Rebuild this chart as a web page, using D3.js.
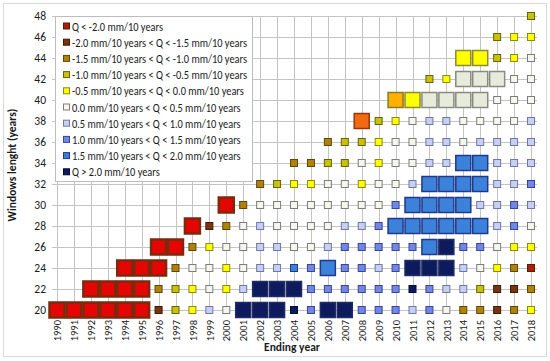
<!DOCTYPE html>
<html lang="en">
<head>
<meta charset="utf-8">
<title>Windows length vs ending year</title>
<script src="https://cdn.jsdelivr.net/npm/d3@7"></script>
<style>
    body { margin: 0; background: #fff; }
    text { font-family: Carlito, Lato, "Liberation Sans", sans-serif; fill: #1a1a1a; }
    .grid line { stroke: #c4c4c4; stroke-width: 1; }
</style>
</head>
<body>
<svg id="chart" width="550" height="361"></svg>
<script>
// ending years and window lengths
var years = d3.range(1990, 2019)
var windows = [20, 22, 24, 26, 28, 30, 32, 34, 36, 38, 40, 42, 44, 46, 48]
var firstYear = 1970   // a window of w years ending in y starts at y - w + 1 > 1970

// legend classes
var classLabels = [
    'Q < -2.0 mm/10 years',
    '-2.0 mm/10 years < Q < -1.5 mm/10 years',
    '-1.5 mm/10 years < Q < -1.0 mm/10 years',
    '-1.0 mm/10 years < Q < -0.5 mm/10 years',
    '-0.5 mm/10 years < Q < 0.0 mm/10 years',
    '0.0 mm/10 years < Q < 0.5 mm/10 years',
    '0.5 mm/10 years < Q < 1.0 mm/10 years',
    '1.0 mm/10 years < Q < 1.5 mm/10 years',
    '1.5 mm/10 years < Q < 2.0 mm/10 years',
    'Q > 2.0 mm/10 years'
]

// class of each cell, one row per window, starting at the first possible ending year
// "L" = significant trend (big marker)
var row20 = ['0L','0L','0L','0L','0L','0L','1','3','4','6','5','9L','9L','9L','9','7','9L','9L','7','7','7','6','7','5','2','2','1','2','4']
var row22 = ['0L','0L','0L','0L','2','3','4','5','4','6','9L','9L','9L','7','7','7','7','7','7','9','7','6','6','3','1','1','2']
var row24 = ['0L','0L','0L','2','5','5','4','5','6','6','8','7','8L','7','7','6','7','9L','9L','9L','6','5','4','2','0']
var row26 = ['0L','0L','2','4','5','5','6','6','5','5','6','7','7','7','7','7','8L','9L','7','7','5','4','4']
var row28 = ['0L','1','2','5','6','5','5','5','5','6','6','7','8L','8L','8L','8L','8L','8L','6','7','5']
var row30 = ['0L','2','5','5','5','5','5','5','5','5','7','8L','8L','8L','7L','6','6','7','6']
var row32 = ['2','3','4','4','5','5','4','5','5','6','7L','8L','8L','7L','6','6','7']
var row34 = ['2','2','3','3','5','4','5','5','6','6','7L','7L','6','6','6']
var row36 = ['2','3','3','4','5','5','6','6','5','6','6','6','6']
var row38 = ['1L','3','4','5','6','6','5','5','5','5','6']
var row40 = ['2L','4L','5L','5L','5L','5L','5','5','5']
var row42 = ['3','4','5L','5L','5L','5','5']
var row44 = ['4L','4L','3','4','5']
var row46 = ['3','4','4']
var row48 = ['3']
var rows = [row20, row22, row24, row26, row28, row30, row32, row34, row36, row38, row40, row42, row44, row46, row48]

// colours: small markers / legend
var smallFill   = ['#a8200c', '#7a3410', '#b0820c', '#c8c20a', '#ffff00', '#f6f6ef', '#c8d0f2', '#7486e4', '#3b7fd8', '#0d1b5e']
var smallStroke = ['#5a1a08', '#3e1a06', '#5e4606', '#66620a', '#8a8a10', '#7c7c7c', '#6e78a8', '#36449a', '#1c3c86', '#050c30']
// colours: big markers
var bigFill   = ['#e50505', '#f06a12', '#ffb000', '#c8c20a', '#ffff00', '#e7ebdb', '#8db4e2', '#3c82da', '#3c82da', '#0d1b5e']
var bigStroke = ['#7c2a0c', '#9a3410', '#8a7a20', '#66620a', '#8c8c30', '#8a8a80', '#5c6c9c', '#1f3a8a', '#1f3a8a', '#222c64']

var cells = []
rows.forEach(function (r, i) {
    var w = windows[i]
    r.forEach(function (code, j) {
        cells.push({
            year: firstYear + w + j,
            win: w,
            cls: +code[0],
            big: code.length > 1
        })
    })
})

var svg = d3.select('#chart')

// outer frame
svg.append('rect')
    .attr('x', 3.5).attr('y', 3.5)
    .attr('width', 543).attr('height', 353)
    .attr('fill', '#fff')
    .attr('stroke', '#d9d9d9')

var x = d3.scalePoint().domain(years).range([57, 531])
var y = d3.scaleLinear().domain([20, 48]).range([310, 16])

var grid = svg.append('g').attr('class', 'grid')
grid.selectAll('.v').data(years).enter().append('line')
    .attr('x1', d => Math.round(x(d)) + 0.5).attr('x2', d => Math.round(x(d)) + 0.5)
    .attr('y1', y(48)).attr('y2', y(20))
grid.selectAll('.h').data(windows).enter().append('line')
    .attr('x1', 52).attr('x2', 537)
    .attr('y1', d => Math.round(y(d)) + 0.5).attr('y2', d => Math.round(y(d)) + 0.5)

// y tick labels
var yAxis = d3.axisLeft(y).tickValues(windows).tickSize(0).tickPadding(0)
var gy = svg.append('g').attr('transform', 'translate(46,0)').call(yAxis)
gy.select('.domain').remove()
gy.selectAll('text').attr('font-size', 11.5).attr('fill', '#1a1a1a')
    .style('font-family', 'Carlito, Lato, "Liberation Sans", sans-serif')

// x tick labels, rotated
var xAxis = d3.axisBottom(x).tickSize(0).tickPadding(0)
var gx = svg.append('g').attr('transform', 'translate(0,320)').call(xAxis)
gx.select('.domain').remove()
gx.selectAll('text')
    .attr('font-size', 10.5).attr('fill', '#1a1a1a')
    .style('font-family', 'Carlito, Lato, "Liberation Sans", sans-serif')
    .attr('text-anchor', 'end')
    .attr('dy', '0.35em')
    .attr('y', 0)
    .attr('transform', 'rotate(-90)')

// markers: small first, big on top
var sorted = cells.slice().sort((a, b) => a.big - b.big)
svg.append('g').selectAll('rect').data(sorted).enter().append('rect')
    .attr('x', d => x(d.year) - (d.big ? 7.5 : 3.5))
    .attr('y', d => y(d.win) - (d.big ? 7.5 : 3.5))
    .attr('width', d => d.big ? 15 : 7)
    .attr('height', d => d.big ? 15 : 7)
    .attr('fill', d => d.big ? bigFill[d.cls] : smallFill[d.cls])
    .attr('stroke', d => d.big ? bigStroke[d.cls] : smallStroke[d.cls])
    .attr('stroke-width', d => d.big ? (d.cls == 0 ? 2.5 : 1.5) : 1)

// legend
var lg = svg.append('g')
lg.append('rect')
    .attr('x', 55.5).attr('y', 16.5)
    .attr('width', 197).attr('height', 165)
    .attr('fill', '#fff')
    .attr('stroke', '#bdbdbd')
var item = lg.selectAll('.item').data(classLabels).enter().append('g')
    .attr('transform', (d, i) => 'translate(0,' + (26.5 + i * 16.2) + ')')
item.append('rect')
    .attr('x', 63.5).attr('y', -3.5)
    .attr('width', 6).attr('height', 6)
    .attr('fill', (d, i) => smallFill[i])
    .attr('stroke', (d, i) => smallStroke[i])
var labels = item.append('text')
    .attr('x', 72).attr('y', 0)
    .attr('dy', '0.35em')
    .attr('font-size', 11.5)
    .text(d => d)
// squeeze the labels to a Calibri-like width (longest label ~175px)
var longest = d3.max(labels.nodes(), n => n.getComputedTextLength())
var squeeze = Math.min(1, 175 / longest)
labels.each(function () {
    var len = this.getComputedTextLength()
    d3.select(this).attr('textLength', len * squeeze).attr('lengthAdjust', 'spacingAndGlyphs')
})

// axis titles
svg.append('text')
    .attr('transform', 'translate(16,165) rotate(-90)')
    .attr('text-anchor', 'middle')
    .attr('font-size', 11.5)
    .style('font-weight', 'bold')
    .text('Windows lenght  (years)')
svg.append('text')
    .attr('x', 292).attr('y', 351)
    .attr('text-anchor', 'middle')
    .attr('font-size', 11.5)
    .style('font-weight', 'bold')
    .text('Ending year')
</script>
</body>
</html>
